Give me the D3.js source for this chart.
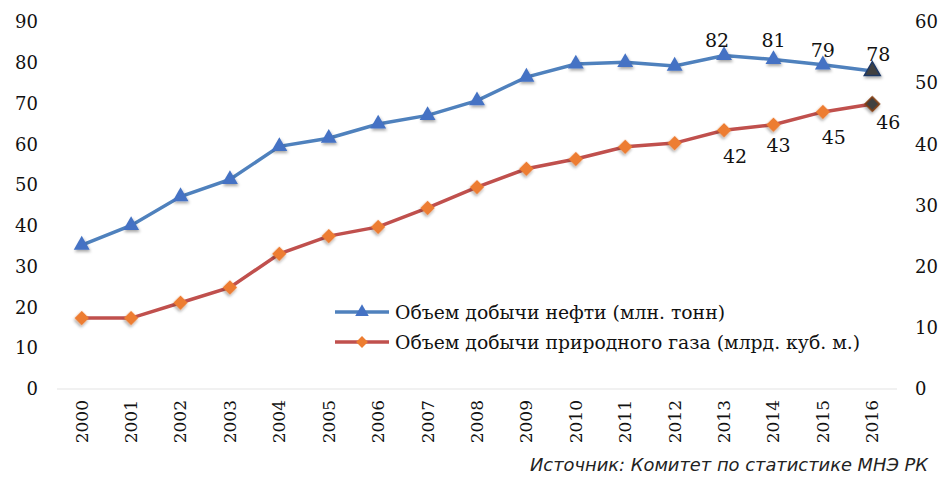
<!DOCTYPE html>
<html>
<head>
<meta charset="utf-8">
<script src="https://cdn.jsdelivr.net/npm/d3@7"></script>
<style>
  body { margin: 0; background: #fff; }
  svg { display: block; }
</style>
</head>
<body>
<div id="chart-area"></div>
<script>
// DATA
const years = ['2000', '2001', '2002', '2003', '2004', '2005', '2006', '2007', '2008',
               '2009', '2010', '2011', '2012', '2013', '2014', '2015', '2016']
const oil = [35.3, 40.1, 47.2, 51.4, 59.5, 61.5, 65.0, 67.1, 70.7,
             76.5, 79.7, 80.1, 79.2, 81.8, 80.8, 79.5, 78.0]
const gas = [11.6, 11.6, 14.1, 16.6, 22.1, 25.0, 26.5, 29.6, 33.0,
             36.0, 37.6, 39.6, 40.2, 42.3, 43.2, 45.3, 46.6]
const labelYears = ['2013', '2014', '2015', '2016']
const oilLabels = ['82', '81', '79', '78']
const gasLabels = ['42', '43', '45', '46']
const leftTicks = [0, 10, 20, 30, 40, 50, 60, 70, 80, 90]
const rightTicks = [0, 10, 20, 30, 40, 50, 60]
const legendNames = ['Объем добычи нефти (млн. тонн)', 'Объем добычи природного газа (млрд. куб. м.)']
const sourceText = 'Источник: Комитет по статистике МНЭ РК'

// label nudges (px), as the labels were placed by hand in the original
const oilNudge = [[-7, -15], [0, -19], [0, -14], [6, -17]]
const gasNudge = [[11, 26], [5, 21], [11, 25], [16, 18]]

const W = 943, H = 479
const serif = '"DejaVu Serif", serif'

const svg = d3.select('#chart-area')
              .append('svg')
              .attr('width', W)
              .attr('height', H)
              .style('font-family', serif)

const defs = svg.append('defs')
const shadow = defs.append('filter').attr('id', 'shadow')
                   .attr('x', '-50%').attr('y', '-50%').attr('width', '200%').attr('height', '200%')
shadow.append('feDropShadow').attr('dx', 1).attr('dy', 2).attr('stdDeviation', 1.5)
      .attr('flood-color', '#000').attr('flood-opacity', 0.35)

const x = d3.scaleBand().domain(years).range([57, 897])
const yL = d3.scaleLinear().domain([0, 90]).range([389, 22])
const yR = d3.scaleLinear().domain([0, 60]).range([389, 22])
const cx = d => x(d) + x.bandwidth() / 2

// baseline
svg.append('line')
   .attr('x1', 57).attr('x2', 897)
   .attr('y1', yL(0)).attr('y2', yL(0))
   .attr('stroke', '#ececec').attr('stroke-width', 1.5)

// left axis
const leftAxis = svg.append('g')
   .attr('transform', 'translate(38,0)')
   .call(d3.axisLeft(yL).tickValues(leftTicks).tickSize(0).tickPadding(0))
leftAxis.select('.domain').remove()
leftAxis.selectAll('text').attr('font-size', 18).attr('font-family', serif).attr('fill', '#111')

// right axis
const rightAxis = svg.append('g')
   .attr('transform', 'translate(915,0)')
   .call(d3.axisRight(yR).tickValues(rightTicks).tickSize(0).tickPadding(0))
rightAxis.select('.domain').remove()
rightAxis.selectAll('text').attr('font-size', 18).attr('font-family', serif).attr('fill', '#111')

// x axis (rotated years)
const xAxis = svg.append('g')
   .attr('transform', 'translate(0,397)')
   .call(d3.axisBottom(x).tickSize(0).tickPadding(0))
xAxis.select('.domain').remove()
xAxis.selectAll('text')
   .attr('font-size', 17).attr('font-family', serif).attr('fill', '#111')
   .attr('transform', 'rotate(-90)')
   .attr('text-anchor', 'end')
   .attr('x', -3).attr('y', 0).attr('dy', '0.35em')

// lines
const oilLine = d3.line().x((d, i) => cx(years[i])).y(d => yL(d))
const gasLine = d3.line().x((d, i) => cx(years[i])).y(d => yR(d))

svg.append('path').datum(gas)
   .attr('d', gasLine).attr('fill', 'none')
   .attr('stroke', '#c0504d').attr('stroke-width', 3.5)
svg.append('path').datum(oil)
   .attr('d', oilLine).attr('fill', 'none')
   .attr('stroke', '#4f81bd').attr('stroke-width', 3.5)

const tri = d3.symbol().type(d3.symbolTriangle).size(110)
const dia = d3.symbol().type(d3.symbolSquare).size(105)
const last = years.length - 1

svg.append('g').selectAll('path')
   .data(gas).enter().append('path')
   .attr('d', dia)
   .attr('transform', (d, i) => 'translate(' + cx(years[i]) + ',' + yR(d) + ') rotate(45)')
   .attr('fill', (d, i) => i === last ? '#404040' : '#ed7d31')
   .attr('stroke', (d, i) => i === last ? '#843c0c' : 'none')
   .attr('stroke-width', 1.5)
   .attr('filter', 'url(#shadow)')

svg.append('g').selectAll('path')
   .data(oil).enter().append('path')
   .attr('d', tri)
   .attr('transform', (d, i) => 'translate(' + cx(years[i]) + ',' + yL(d) + ')')
   .attr('fill', (d, i) => i === last ? '#404040' : '#4472c4')
   .attr('stroke', (d, i) => i === last ? '#1f3864' : 'none')
   .attr('stroke-width', 1.5)
   .attr('filter', 'url(#shadow)')

// data labels
svg.append('g').selectAll('text')
   .data(labelYears).enter().append('text')
   .attr('x', (y, i) => cx(y) + oilNudge[i][0])
   .attr('y', (y, i) => yL(oil[years.indexOf(y)]) + oilNudge[i][1])
   .attr('dy', '0.35em')
   .attr('text-anchor', 'middle')
   .attr('font-size', 19).attr('fill', '#111')
   .text((y, i) => oilLabels[i])

svg.append('g').selectAll('text')
   .data(labelYears).enter().append('text')
   .attr('x', (y, i) => cx(y) + gasNudge[i][0])
   .attr('y', (y, i) => yR(gas[years.indexOf(y)]) + gasNudge[i][1])
   .attr('dy', '0.35em')
   .attr('text-anchor', 'middle')
   .attr('font-size', 19).attr('fill', '#111')
   .text((y, i) => gasLabels[i])

// legend
const legend = svg.append('g').attr('transform', 'translate(335,312)')
const legendColors = [['#4f81bd', '#4472c4'], ['#c0504d', '#ed7d31']]
legendNames.forEach((name, i) => {
    const g = legend.append('g').attr('transform', 'translate(0,' + i * 30 + ')')
    g.append('line').attr('x1', 0).attr('x2', 54).attr('y1', 0).attr('y2', 0)
     .attr('stroke', legendColors[i][0]).attr('stroke-width', 3.5)
    g.append('path')
     .attr('d', i === 0 ? d3.symbol().type(d3.symbolTriangle).size(80)() : d3.symbol().type(d3.symbolSquare).size(70)())
     .attr('transform', 'translate(27,0)' + (i === 1 ? ' rotate(45)' : ''))
     .attr('fill', legendColors[i][1])
    g.append('text').attr('x', 60).attr('y', 0).attr('dy', '0.35em')
     .attr('font-size', 18.8).attr('fill', '#111')
     .text(name)
})

// source
svg.append('text')
   .attr('x', 928).attr('y', 471)
   .attr('text-anchor', 'end')
   .attr('font-family', '"DejaVu Sans Condensed", "DejaVu Sans", sans-serif')
   .attr('font-style', 'italic')
   .attr('font-size', 17)
   .attr('textLength', 398)
   .attr('lengthAdjust', 'spacingAndGlyphs')
   .attr('fill', '#222')
   .text(sourceText)
</script>
</body>
</html>
